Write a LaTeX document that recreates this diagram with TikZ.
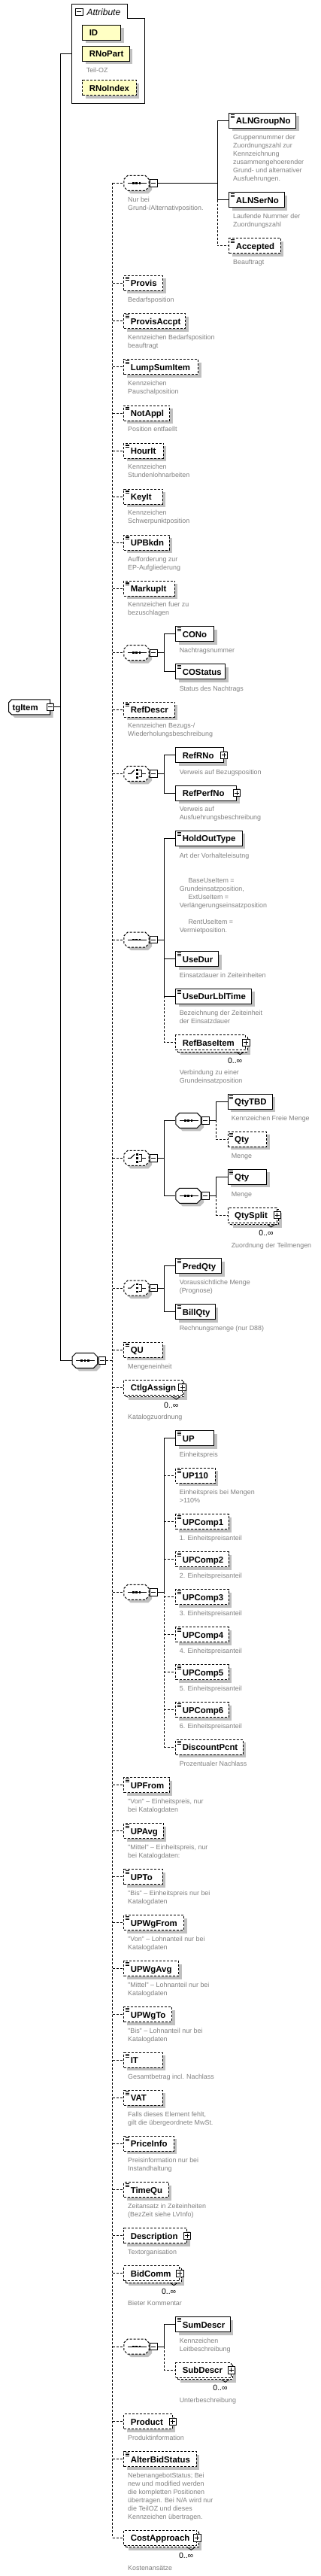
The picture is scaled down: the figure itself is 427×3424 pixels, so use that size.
\documentclass[tikz,border=0pt]{standalone}
\usepackage{fontspec}
\setmainfont{Liberation Sans}[Ligatures=TeXOff]
\usetikzlibrary{shadows}

\definecolor{shadowgray}{RGB}{192,192,192}
\definecolor{descgray}{RGB}{128,128,128}
\definecolor{attrfill}{RGB}{255,255,196}
\newcommand\namefont{\fontsize{11.4}{13}\selectfont\bfseries}
\newcommand\descfont{\fontsize{8.9}{11}\selectfont}
% one gray line of documentation per list item
\newcommand\desc[4]{%
  \foreach \txt [count=\k from 0] in {#4}
    \node[descr] (#1-\k) at (#2,{#3+3+11*\k}) {\txt};}
% occurrence mark below a repeated element
\newcommand\occurs[1]{%
  \draw[line width=0.8pt] ([xshift=-13pt,yshift=-12.5pt]#1.east) -- ++(5pt,-3.5pt) -- ++(5pt,3.5pt);
  \node[occ] (#1-o) at ([xshift=-4.6pt,yshift=-27.4pt]#1.east) {0..∞};}

% box with cut corners (compositors, root element)
\makeatletter
\pgfkeys{/pgf/bevel left/.initial=5pt, /pgf/bevel right/.initial=5pt}
\pgfdeclareshape{beveled}{%
  \inheritsavedanchors[from=rectangle]%
  \inheritanchorborder[from=rectangle]%
  \inheritanchor[from=rectangle]{center}%
  \inheritanchor[from=rectangle]{north}%
  \inheritanchor[from=rectangle]{south}%
  \inheritanchor[from=rectangle]{east}%
  \inheritanchor[from=rectangle]{west}%
  \inheritanchor[from=rectangle]{north east}%
  \inheritanchor[from=rectangle]{north west}%
  \inheritanchor[from=rectangle]{south east}%
  \inheritanchor[from=rectangle]{south west}%
  \backgroundpath{%
    \pgfmathsetlengthmacro\bvox{\pgfkeysvalueof{/pgf/outer xsep}}%
    \pgfmathsetlengthmacro\bvoy{\pgfkeysvalueof{/pgf/outer ysep}}%
    \southwest \edef\bvxa{\the\pgf@x}\edef\bvya{\the\pgf@y}%
    \northeast \edef\bvxb{\the\pgf@x}\edef\bvyb{\the\pgf@y}%
    \pgfmathsetlengthmacro\bvxa{\bvxa+\bvox}\pgfmathsetlengthmacro\bvya{\bvya+\bvoy}%
    \pgfmathsetlengthmacro\bvxb{\bvxb-\bvox}\pgfmathsetlengthmacro\bvyb{\bvyb-\bvoy}%
    \pgfmathsetlengthmacro\bvl{\pgfkeysvalueof{/pgf/bevel left}}%
    \pgfmathsetlengthmacro\bvr{\pgfkeysvalueof{/pgf/bevel right}}%
    \pgfpathmoveto{\pgfpoint{\bvxa+\bvl}{\bvya}}%
    \pgfpathlineto{\pgfpoint{\bvxb-\bvr}{\bvya}}%
    \pgfpathlineto{\pgfpoint{\bvxb}{\bvya+\bvr}}%
    \pgfpathlineto{\pgfpoint{\bvxb}{\bvyb-\bvr}}%
    \pgfpathlineto{\pgfpoint{\bvxb-\bvr}{\bvyb}}%
    \pgfpathlineto{\pgfpoint{\bvxa+\bvl}{\bvyb}}%
    \pgfpathlineto{\pgfpoint{\bvxa}{\bvyb-\bvl}}%
    \pgfpathlineto{\pgfpoint{\bvxa}{\bvya+\bvl}}%
    \pgfpathclose
  }%
}
\makeatother

\begin{document}
\begin{tikzpicture}[x=1pt, y=-1pt, line width=1pt,
  shdw/.style={general shadow={draw=none, fill=shadowgray, shadow xshift=4pt, shadow yshift=-4pt}},
  opt/.style={dash pattern=on 3pt off 2pt},
  elem/.style={draw, fill=white, shdw, anchor=west, minimum height=20, inner xsep=9, inner ysep=0,
    align=left, text height=10.5pt, text depth=1.5pt, font=\namefont},
  boxw/.code={\pgfmathsetlengthmacro\bw{#1-18}\tikzset{text width=\bw}},
  simple/.style={path picture={\foreach \dy in {2pt,3.8pt,5.6pt}
    \draw[solid, line width=0.8pt] ([xshift=1.7pt, yshift=-\dy]path picture bounding box.north west) -- ++(5.5pt,0);}},
  multi/.style={general shadow={draw=none, fill=shadowgray, shadow xshift=6.5pt, shadow yshift=-6.5pt},
    general shadow={draw, fill=white, opt, shadow xshift=2.5pt, shadow yshift=-2.5pt}},
  attr/.style={elem, fill=attrfill},
  comp/.style={shape=beveled, draw, fill=white, shdw, anchor=west, minimum width=33.4, minimum height=20, inner sep=0},
  seq/.style={comp, path picture={
    \draw[solid] ([xshift=-11.5pt]path picture bounding box.center) -- ([xshift=13pt]path picture bounding box.center);
    \foreach \dx in {-4.4pt,0pt,4.4pt}
      \fill[black] ([xshift=\dx]path picture bounding box.center) +(-1.4pt,-1.4pt) rectangle +(1.4pt,1.4pt);}},
  choice/.style={comp, path picture={
    \draw[solid] ([xshift=-11.5pt]path picture bounding box.center) -- ([xshift=-7.5pt]path picture bounding box.center)
      -- ([xshift=-2.5pt,yshift=5pt]path picture bounding box.center);
    \foreach \dy in {-5pt,0pt,5pt}
      \fill[black] ([xshift=1pt,yshift=\dy]path picture bounding box.center) +(-1.4pt,-1.4pt) rectangle +(1.4pt,1.4pt);
    \draw[solid] ([xshift=3.5pt,yshift=4.5pt]path picture bounding box.center) -- ([xshift=7pt,yshift=4.5pt]path picture bounding box.center)
      -- ([xshift=7pt,yshift=-4.5pt]path picture bounding box.center) -- ([xshift=3.5pt,yshift=-4.5pt]path picture bounding box.center)
      ([xshift=7pt]path picture bounding box.center) -- ([xshift=12pt]path picture bounding box.center);}},
  minusbox/.style={draw, solid, fill=white, minimum size=9.4, inner sep=0, anchor=west,
    path picture={\draw[solid, line width=0.8pt] ([xshift=-3pt]path picture bounding box.center) -- ([xshift=3pt]path picture bounding box.center);}},
  plusbox/.style={draw, solid, fill=white, minimum size=9.4, inner sep=0,
    path picture={\draw[solid, line width=0.8pt] ([xshift=-3pt]path picture bounding box.center) -- ([xshift=3pt]path picture bounding box.center)
      ([yshift=-3pt]path picture bounding box.center) -- ([yshift=3pt]path picture bounding box.center);}},
  descr/.style={anchor=base west, inner sep=0, text=descgray, font=\descfont},
  occ/.style={anchor=base east, inner sep=0, font=\fontsize{10.5}{12}\selectfont},
]
\useasboundingbox (0,0) rectangle (427,3424);

% attributes
\draw (95.7,5.3) -- (169.3,5.3) -- (169.3,24.3) -- (192.3,24.3) -- (192.3,137.3) -- (95.7,137.3) -- cycle;
\node[minusbox, anchor=center] (attr-m) at (105.3,15.8) {};
\node[anchor=base west, inner sep=0, font=\fontsize{12}{14}\selectfont\itshape] (attr-t) at (115,20.3) {Attribute};
\node[attr, boxw=51] (ID) at (109.3,43.3) {ID};
\node[attr, boxw=62.4] (RNoPart) at (109.3,71.3) {RNoPart};
\desc{dRNoPart}{114.3}{93.7}{Teil-OZ}
\node[attr, opt, boxw=71.4] (RNoIndex) at (109.3,116.7) {RNoIndex};
\coordinate (attr) at (95.7,71);

% root element
\node[elem, shape=beveled, bevel left=4pt, bevel right=0pt, inner xsep=5, text width=45] (tgItem) at (11,939.8) {tgItem};
\node[minusbox, anchor=center] (tgItem-m) at (tgItem.east) {};
\node[seq] (main) at (95.7,1808.3) {};
\node[minusbox] (main-m) at ([xshift=0.5pt]main.east) {};

% ALN group
\node[seq, opt] (S1) at (164.3,243.3) {};
\node[minusbox] (S1-m) at ([xshift=0.5pt]S1.east) {};
\desc{dS1}{169.7}{265.7}{Nur bei, Grund-/Alternativposition.}
\node[elem, simple, boxw=89] (ALNGroupNo) at (304.3,160.3) {ALNGroupNo};
\desc{dALNGroupNo}{309.7}{182.7}{Gruppennummer der, Zuordnungszahl zur, Kennzeichnung, zusammengehoerender, Grund- und alternativer, Ausfuehrungen.}
\node[elem, simple, boxw=73.4] (ALNSerNo) at (304.3,265.5) {ALNSerNo};
\desc{dALNSerNo}{309.7}{287.5}{Laufende Nummer der, Zuordnungszahl}
\node[elem, opt, simple, boxw=68.4] (Accepted) at (304.3,326.7) {Accepted};
\desc{dAccepted}{309.7}{348.3}{Beauftragt}

% flags
\node[elem, opt, simple, boxw=51.7] (Provis) at (164.3,376.3) {Provis};
\desc{dProvis}{169.7}{398.7}{Bedarfsposition}
\node[elem, opt, simple, boxw=81.7] (ProvisAccpt) at (164.3,426.7) {ProvisAccpt};
\desc{dProvisAccpt}{169.7}{448.7}{Kennzeichen Bedarfsposition, beauftragt}
\node[elem, opt, simple, boxw=98.7] (LumpSumItem) at (164.3,487.7) {LumpSumItem};
\desc{dLumpSumItem}{169.7}{509.7}{Kennzeichen, Pauschalposition}
\node[elem, opt, simple, boxw=61] (NotAppl) at (164.3,549) {NotAppl};
\desc{dNotAppl}{169.7}{570.7}{Position entfaellt}
\node[elem, opt, simple, boxw=52.4] (HourIt) at (164.3,599) {HourIt};
\desc{dHourIt}{169.7}{620.7}{Kennzeichen, Stundenlohnarbeiten}
\node[elem, opt, simple, boxw=51.4] (KeyIt) at (164.3,660) {KeyIt};
\desc{dKeyIt}{169.7}{681.7}{Kennzeichen, Schwerpunktposition}
\node[elem, opt, simple, boxw=60.4] (UPBkdn) at (164.3,721) {UPBkdn};
\desc{dUPBkdn}{169.7}{743}{Aufforderung zur, EP-Aufgliederung}
\node[elem, opt, simple, boxw=67.4] (MarkupIt) at (164.3,782) {MarkupIt};
\desc{dMarkupIt}{169.7}{803.7}{Kennzeichen fuer zu, bezuschlagen}

% change order
\node[seq, opt] (S2) at (164.3,867.7) {};
\node[minusbox] (S2-m) at ([xshift=0.5pt]S2.east) {};
\node[elem, simple, boxw=51] (CONo) at (233.3,842.7) {CONo};
\desc{dCONo}{238.3}{864.3}{Nachtragsnummer}
\node[elem, simple, boxw=66] (COStatus) at (233.3,892.7) {COStatus};
\desc{dCOStatus}{238.3}{915}{Status des Nachtrags}

\node[elem, opt, simple, boxw=67.4] (RefDescr) at (164.3,943) {RefDescr};
\desc{dRefDescr}{169.7}{964.7}{Kennzeichen Bezugs-/, Wiederholungsbeschreibung}

\node[choice, opt] (C1) at (164.3,1028.3) {};
\node[minusbox] (C1-m) at ([xshift=0.5pt]C1.east) {};
\node[elem, boxw=63.9] (RefRNo) at (233.3,1003.7) {RefRNo};
\node[plusbox] (RefRNo-p) at (RefRNo.east) {};
\desc{dRefRNo}{238.3}{1026}{Verweis auf Bezugsposition}
\node[elem, boxw=80.7] (RefPerfNo) at (233.3,1054) {RefPerfNo};
\node[plusbox] (RefPerfNo-p) at (RefPerfNo.east) {};
\desc{dRefPerfNo}{238.3}{1075.3}{Verweis auf, Ausfuehrungsbeschreibung}

% hold out
\node[seq, opt] (S3) at (164.3,1249) {};
\node[minusbox] (S3-m) at ([xshift=0.5pt]S3.east) {};
\node[elem, simple, boxw=88.4] (HoldOutType) at (233.3,1114.3) {HoldOutType};
\desc{dHoldOutType}{238.3}{1137}{Art der Vorhalteleisutng}
\desc{dHoldOutTypeB}{238.3}{1170}{\hspace{11.7pt}BaseUseItem =, Grundeinsatzposition{,}, \hspace{11.7pt}ExtUseItem =, Verlängerungseinsatzposition}
\desc{dHoldOutTypeC}{238.3}{1225}{\hspace{11.7pt}RentUseItem =, Vermietposition.}
\node[elem, simple, boxw=57] (UseDur) at (233.3,1274.7) {UseDur};
\desc{dUseDur}{238.3}{1296.7}{Einsatzdauer in Zeiteinheiten}
\node[elem, simple, boxw=101] (UseDurLblTime) at (233.3,1324.3) {UseDurLblTime};
\desc{dUseDurLblTime}{238.3}{1346.7}{Bezeichnung der Zeiteinheit, der Einsatzdauer}
\node[elem, opt, multi, boxw=93] (RefBaseItem) at (233.3,1385.7) {RefBaseItem};
\node[plusbox] (RefBaseItem-p) at (RefBaseItem.east) {};
\occurs{RefBaseItem}
\desc{dRefBaseItem}{238.3}{1425.7}{Verbindung zu einer, Grundeinsatzposition}

% quantities
\node[choice, opt] (C2) at (164.3,1539.3) {};
\node[minusbox] (C2-m) at ([xshift=0.5pt]C2.east) {};
\node[seq] (S4) at (233.3,1489.3) {};
\node[minusbox] (S4-m) at ([xshift=0.5pt]S4.east) {};
\node[elem, simple, boxw=59] (QtyTBD) at (302.7,1464.3) {QtyTBD};
\desc{dQtyTBD}{307.3}{1486.7}{Kennzeichen Freie Menge}
\node[elem, opt, simple, boxw=51.3] (Qty) at (302.7,1514.3) {Qty};
\desc{dQty}{307.3}{1536.7}{Menge}
\node[seq] (S5) at (233.3,1589.3) {};
\node[minusbox] (S5-m) at ([xshift=0.5pt]S5.east) {};
\node[elem, simple, boxw=51.3] (Qty2) at (302.7,1564.3) {Qty};
\desc{dQty2}{307.3}{1587}{Menge}
\node[elem, opt, multi, boxw=65] (QtySplit) at (302.7,1615) {QtySplit};
\node[plusbox] (QtySplit-p) at (QtySplit.east) {};
\occurs{QtySplit}
\desc{dQtySplit}{307.3}{1655}{Zuordnung der Teilmengen}

\node[choice, opt] (C3) at (164.3,1712) {};
\node[minusbox] (C3-m) at ([xshift=0.5pt]C3.east) {};
\node[elem, simple, boxw=61] (PredQty) at (233.3,1682.7) {PredQty};
\desc{dPredQty}{238.3}{1704.3}{Voraussichtliche Menge, (Prognose)}
\node[elem, simple, boxw=52.4] (BillQty) at (233.3,1743.7) {BillQty};
\desc{dBillQty}{238.3}{1765.7}{Rechnungsmenge (nur D88)}

\node[elem, opt, simple, boxw=51.4] (QU) at (164.3,1794) {QU};
\desc{dQU}{169.7}{1816}{Mengeneinheit}
\node[elem, opt, multi, boxw=77.2] (CtlgAssign) at (164.3,1844) {CtlgAssign};
\node[plusbox] (CtlgAssign-p) at (CtlgAssign.east) {};
\occurs{CtlgAssign}
\desc{dCtlgAssign}{169.7}{1883.7}{Katalogzuordnung}

% unit prices
\node[seq, opt] (S6) at (164.3,2116.3) {};
\node[minusbox] (S6-m) at ([xshift=0.5pt]S6.east) {};
\node[elem, simple, boxw=51] (UP) at (233.3,1911.7) {UP};
\desc{dUP}{238.3}{1933.3}{Einheitspreis}
\node[elem, opt, simple, boxw=52.4] (UP110) at (233.3,1961.3) {UP110};
\desc{dUP110}{238.3}{1983.7}{Einheitspreis bei Mengen, >110\%}
\foreach \i in {1,...,6} {
  \node[elem, opt, simple, boxw=70.4] (UPComp\i) at (233.3,{1972.7+50*\i}) {UPComp\i};
  \desc{dUPComp\i}{238.3}{1994.7+50*\i}{\i. Einheitspreisanteil}
}
\node[elem, opt, simple, boxw=89.4] (DiscountPcnt) at (233.3,2322.3) {DiscountPcnt};
\desc{dDiscountPcnt}{238.3}{2344.3}{Prozentualer Nachlass}

\node[elem, opt, simple, boxw=60.4] (UPFrom) at (164.3,2372.7) {UPFrom};
\desc{dUPFrom}{169.7}{2394.7}{"Von" – Einheitspreis{,} nur, bei Katalogdaten}
\node[elem, opt, simple, boxw=52.4] (UPAvg) at (164.3,2433.7) {UPAvg};
\desc{dUPAvg}{169.7}{2455.7}{"Mittel" – Einheitspreis{,} nur, bei Katalogdaten:}
\node[elem, opt, simple, boxw=51.4] (UPTo) at (164.3,2494.7) {UPTo};
\desc{dUPTo}{169.7}{2516.7}{"Bis" – Einheitspreis nur bei, Katalogdaten}
\node[elem, opt, simple, boxw=79.7] (UPWgFrom) at (164.3,2555.7) {UPWgFrom};
\desc{dUPWgFrom}{169.7}{2577.7}{"Von" – Lohnanteil nur bei, Katalogdaten}
\node[elem, opt, simple, boxw=72.7] (UPWgAvg) at (164.3,2616.7) {UPWgAvg};
\desc{dUPWgAvg}{169.7}{2638.7}{"Mittel" – Lohnanteil nur bei, Katalogdaten}
\node[elem, opt, simple, boxw=63.7] (UPWgTo) at (164.3,2677.7) {UPWgTo};
\desc{dUPWgTo}{169.7}{2699.7}{"Bis" – Lohnanteil nur bei, Katalogdaten}
\node[elem, opt, simple, boxw=51.4] (IT) at (164.3,2738.3) {IT};
\desc{dIT}{169.7}{2760.7}{Gesamtbetrag incl. Nachlass}
\node[elem, opt, simple, boxw=51.4] (VAT) at (164.3,2788.3) {VAT};
\desc{dVAT}{169.7}{2810.7}{Falls dieses Element fehlt{,}, gilt die übergeordnete MwSt.}
\node[elem, opt, simple, boxw=66.4] (PriceInfo) at (164.3,2849.3) {PriceInfo};
\desc{dPriceInfo}{169.7}{2871.7}{Preisinformation nur bei, Instandhaltung}
\node[elem, opt, simple, boxw=59.4] (TimeQu) at (164.3,2910.7) {TimeQu};
\desc{dTimeQu}{169.7}{2932.7}{Zeitansatz in Zeiteinheiten, (BezZeit siehe LVInfo)}
\node[elem, opt, boxw=83.9] (Description) at (164.3,2971.7) {Description};
\node[plusbox] (Description-p) at (Description.east) {};
\desc{dDescription}{169.7}{2993.7}{Textorganisation}
\node[elem, opt, multi, boxw=74] (BidComm) at (164.3,3021.7) {BidComm};
\node[plusbox] (BidComm-p) at (BidComm.east) {};
\occurs{BidComm}
\desc{dBidComm}{169.7}{3061.7}{Bieter Kommentar}

\node[seq, opt] (S7) at (164.3,3119) {};
\node[minusbox] (S7-m) at ([xshift=0.5pt]S7.east) {};
\node[elem, simple, boxw=72.4] (SumDescr) at (233.3,3089.7) {SumDescr};
\desc{dSumDescr}{238.3}{3111.7}{Kennzeichen, Leitbeschreibung}
\node[elem, opt, multi, boxw=73.4] (SubDescr) at (233.3,3150.3) {SubDescr};
\node[plusbox] (SubDescr-p) at (SubDescr.east) {};
\occurs{SubDescr}
\desc{dSubDescr}{238.3}{3190.7}{Unterbeschreibung}

\node[elem, opt, boxw=64.4] (Product) at (164.3,3218.7) {Product};
\node[plusbox] (Product-p) at (Product.east) {};
\desc{dProduct}{169.7}{3240.7}{Produktinformation}
\node[elem, opt, simple, boxw=96.4] (AlterBidStatus) at (164.3,3268.7) {AlterBidStatus};
\desc{dAlterBidStatus}{169.7}{3290.7}{NebenangebotStatus; Bei, new und modified werden, die kompletten Positionen, übertragen. Bei N/A wird nur, die TeilOZ und dieses, Kennzeichen übertragen.}
\node[elem, opt, multi, boxw=97] (CostApproach) at (164.3,3373.3) {CostApproach};
\node[plusbox] (CostApproach-p) at (CostApproach.east) {};
\occurs{CostApproach}
\desc{dCostApproach}{169.7}{3413.7}{Kostenansätze}

% connectors
\coordinate (bus0) at (80.7,0);
\coordinate (bus1) at (149.7,0);
\coordinate (bus2) at (289.3,0);
\coordinate (bus3) at (218.3,0);
\coordinate (bus4) at (287.3,0);

\draw (tgItem-m.east) -- (tgItem-m.east -| bus0);
\draw (attr -| bus0) -- (attr);
\draw (attr -| bus0) -- (main.west -| bus0) -- (main.west);

\draw[opt] (main-m.east) -- (main-m.east -| bus1);
\draw[opt] (S1.west -| bus1) -- (CostApproach.west -| bus1);
\foreach \n in {S1,Provis,ProvisAccpt,LumpSumItem,NotAppl,HourIt,KeyIt,UPBkdn,MarkupIt,S2,RefDescr,C1,S3,C2,C3,
  QU,CtlgAssign,S6,UPFrom,UPAvg,UPTo,UPWgFrom,UPWgAvg,UPWgTo,IT,VAT,PriceInfo,TimeQu,Description,BidComm,S7,
  Product,AlterBidStatus,CostApproach}
  \draw[opt] (\n.west -| bus1) -- (\n.west);

\draw (S1-m.east) -- (S1-m.east -| bus2);
\draw (ALNGroupNo.west) -- (ALNGroupNo.west -| bus2) -- (ALNSerNo.west -| bus2) -- (ALNSerNo.west);
\draw[opt] (ALNSerNo.west -| bus2) -- (Accepted.west -| bus2) -- (Accepted.west);

\draw (S2-m.east) -- (S2-m.east -| bus3);
\draw (CONo.west) -- (CONo.west -| bus3) -- (COStatus.west -| bus3) -- (COStatus.west);

\draw (C1-m.east) -- (C1-m.east -| bus3);
\draw (RefRNo.west) -- (RefRNo.west -| bus3) -- (RefPerfNo.west -| bus3) -- (RefPerfNo.west);

\draw (S3-m.east) -- (S3-m.east -| bus3);
\draw (HoldOutType.west) -- (HoldOutType.west -| bus3) -- (UseDurLblTime.west -| bus3) -- (UseDurLblTime.west);
\draw (UseDur.west -| bus3) -- (UseDur.west);
\draw[opt] (UseDurLblTime.west -| bus3) -- (RefBaseItem.west -| bus3) -- (RefBaseItem.west);

\draw (C2-m.east) -- (C2-m.east -| bus3);
\draw (S4.west) -- (S4.west -| bus3) -- (S5.west -| bus3) -- (S5.west);
\draw (S4-m.east) -- (S4-m.east -| bus4);
\draw (QtyTBD.west) -- (QtyTBD.west -| bus4) -- (S4-m.east -| bus4);
\draw[opt] (S4-m.east -| bus4) -- (Qty.west -| bus4) -- (Qty.west);
\draw (S5-m.east) -- (S5-m.east -| bus4);
\draw (Qty2.west) -- (Qty2.west -| bus4) -- (S5-m.east -| bus4);
\draw[opt] (S5-m.east -| bus4) -- (QtySplit.west -| bus4) -- (QtySplit.west);

\draw (C3-m.east) -- (C3-m.east -| bus3);
\draw (PredQty.west) -- (PredQty.west -| bus3) -- (BillQty.west -| bus3) -- (BillQty.west);

\draw (S6-m.east) -- (S6-m.east -| bus3);
\draw (UP.west) -- (UP.west -| bus3) -- (S6-m.east -| bus3);
\draw[opt] (S6-m.east -| bus3) -- (DiscountPcnt.west -| bus3);
\foreach \n in {UP110,UPComp1,UPComp2,UPComp3,UPComp4,UPComp5,UPComp6,DiscountPcnt}
  \draw[opt] (\n.west -| bus3) -- (\n.west);

\draw (S7-m.east) -- (S7-m.east -| bus3);
\draw (SumDescr.west) -- (SumDescr.west -| bus3) -- (S7-m.east -| bus3);
\draw[opt] (S7-m.east -| bus3) -- (SubDescr.west -| bus3) -- (SubDescr.west);

\end{tikzpicture}
\end{document}
